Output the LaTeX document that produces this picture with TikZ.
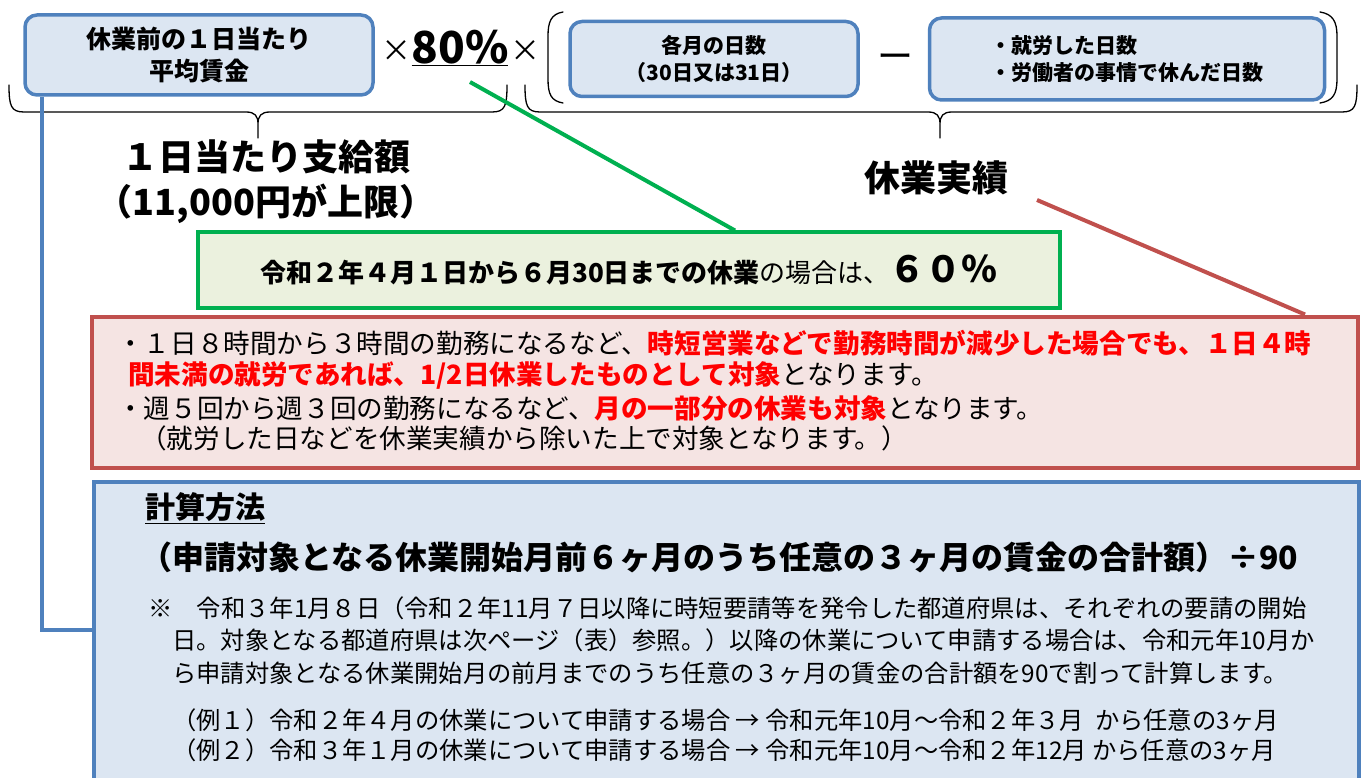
\documentclass[tikz,border=0pt]{standalone}
\usepackage{fontspec}
\setmainfont{Noto Sans CJK JP}
\usepackage{tikz}
\usetikzlibrary{positioning}
\definecolor{boxblue}{RGB}{79,129,189}
\definecolor{boxbluefill}{RGB}{220,230,242}
\definecolor{boxgreen}{RGB}{0,176,80}
\definecolor{boxgreenfill}{RGB}{235,241,222}
\definecolor{boxred}{RGB}{192,80,77}
\definecolor{boxredfill}{RGB}{245,228,227}
\definecolor{hilite}{RGB}{255,0,0}
\newcommand{\fsz}[2]{\fontsize{#1}{#2}\selectfont}
\tikzstyle{term} = [draw=boxblue, fill=boxbluefill, line width=3.5pt, rounded corners=12pt, align=center]
\tikzstyle{panel} = [line width=4pt, inner sep=0pt]
\tikzstyle{textline} = [anchor=west, inner sep=0pt]
\tikzstyle{brace} = [line width=1.3pt, line cap=round]

\begin{document}
\begin{tikzpicture}[x=1pt, y=-1pt]
    \useasboundingbox (0,0) rectangle (1363,778);
    % formula on top
    \node[term, minimum width=348, minimum height=80, font=\bfseries\fsz{25}{32}] (wage) at (199,55) {休業前の１日当たり\\平均賃金};
    \node[font=\fsz{30}{30}] (times1) at (396,51) {×};
    \node[font=\bfseries\fsz{44}{44}] (rate) at (460,48) {\underline{80\%}};
    \node[font=\fsz{30}{30}] (times2) at (525,51) {×};
    \draw[brace] (563,12) .. controls (551,14) and (548,22) .. (548,36) -- (548,79) .. controls (548,94) and (551,101) .. (563,103);
    \draw[brace] (1320,12) .. controls (1333,14) and (1337,22) .. (1337,36) -- (1337,79) .. controls (1337,94) and (1333,101) .. (1320,103);
    \node[term, minimum width=288, minimum height=75, font=\bfseries\fsz{21}{27}] (days) at (714,59) {各月の日数\\（30日又は31日）};
    \node[font=\fsz{36}{36}] (minus) at (895,62) {ー};
    \node[term, minimum width=395, minimum height=82, font=\bfseries\fsz{21}{27}, align=left] (off) at (1127,59) {・就労した日数\\・労働者の事情で休んだ日数};
    % braces below
    \draw[brace] (9,85) .. controls (9,106) and (11,112) .. (24,112) -- (246,112) .. controls (255,112) and (258,116) .. (258,124) -- (258,138)
    (258,124) .. controls (258,116) and (261,112) .. (270,112) -- (492,112) .. controls (505,112) and (507,106) .. (507,85);
    \draw[brace] (525,85) .. controls (525,106) and (527,112) .. (540,112) -- (928,112) .. controls (937,112) and (940,116) .. (940,124) -- (940,138)
    (940,124) .. controls (940,116) and (943,112) .. (952,112) -- (1342,112) .. controls (1355,112) and (1357,106) .. (1357,85);
    \node[font=\bfseries\fsz{36}{45}, align=center] (daily) at (266,182) {１日当たり支給額\\（11,000円が上限）};
    \node[font=\bfseries\fsz{36}{36}] (record) at (936,178) {休業実績};
    % 60% box
    \node[panel, draw=boxgreen, fill=boxgreenfill, minimum width=862, minimum height=75] (rate60) at (629,270)
    {\fsz{26}{26}\textbf{令和２年４月１日から６月30日までの休業}の場合は、\textbf{\fsz{36}{36}６０％}};
    \coordinate (pct) at (470,82);
    \coordinate (gfoot) at (735,0);
    \draw[boxgreen, line width=4pt] (pct) -- (rate60.north -| gfoot);
    % notes
    \node[panel, draw=boxred, fill=boxredfill, minimum width=1266, minimum height=151] (note) at (725,392) {};
    \coordinate (rtip) at (1037,200);
    \coordinate (rfoot) at (1305,0);
    \draw[boxred, line width=4pt] (rtip) -- (note.north -| rfoot);
    \begin{scope}[every node/.style={textline, font=\fsz{26.6}{26.6}}]
        \node (n1) at (117,343) {・１日８時間から３時間の勤務になるなど、\textcolor{hilite}{\bfseries 時短営業などで勤務時間が減少した場合でも、１日４時}};
        \node (n2) at (128,375) {\textcolor{hilite}{\bfseries 間未満の就労であれば、1/2日休業したものとして対象}となります。};
        \node (n3) at (117,408) {・週５回から週３回の勤務になるなど、\textcolor{hilite}{\bfseries 月の一部分の休業も対象}となります。};
        \node (n4) at (140,438) {（就労した日などを休業実績から除いた上で対象となります。）};
    \end{scope}
    % calculation
    \node[panel, draw=boxblue, fill=boxbluefill, minimum width=1265, minimum height=330, anchor=north west] (calc) at (92,480) {};
    \coordinate (bend) at (42,630);
    \draw[boxblue, line width=3.5pt] (wage.south -| bend) |- (calc.west |- bend);
    \node[textline, font=\bfseries\fsz{30}{30}] (method) at (145,508) {\underline{計算方法}};
    \node[textline, font=\bfseries\fsz{32}{32}] (formula) at (140,557) {（申請対象となる休業開始月前６ヶ月のうち任意の３ヶ月の賃金の合計額）÷90};
    \begin{scope}[every node/.style={textline, font=\fsz{24.3}{24.3}}]
        \node (b1) at (148,608) {※　令和３年1月８日（令和２年11月７日以降に時短要請等を発令した都道府県は、それぞれの要請の開始};
        \node (b2) at (172,640) {日。対象となる都道府県は次ページ（表）参照。）以降の休業について申請する場合は、令和元年10月か};
        \node (b3) at (172,673) {ら申請対象となる休業開始月の前月までのうち任意の３ヶ月の賃金の合計額を90で割って計算します。};
        \node (e1) at (172,720) {（例１）令和２年４月の休業について申請する場合 → 令和元年10月～令和２年３月\ \ から任意の3ヶ月};
        \node (e2) at (172,750) {（例２）令和３年１月の休業について申請する場合 → 令和元年10月～令和２年12月 から任意の3ヶ月};
    \end{scope}
\end{tikzpicture}
\end{document}
